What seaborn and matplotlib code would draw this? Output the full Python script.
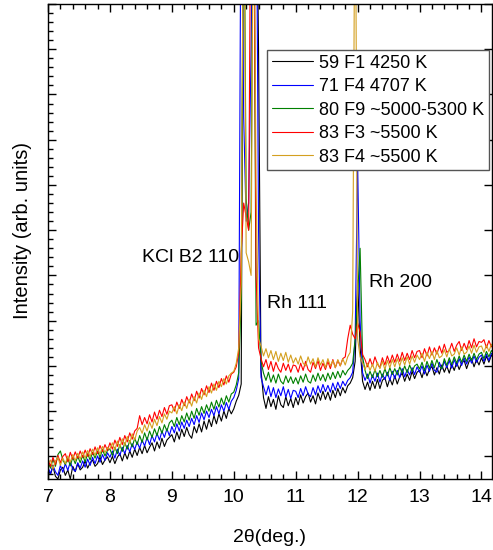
import numpy as np
import pandas as pd
import matplotlib
matplotlib.use("Agg")
import matplotlib.pyplot as plt
from matplotlib.ticker import MultipleLocator, NullFormatter
import seaborn as sns

# measurement grid, 2theta in degrees
two_theta = np.round(7.0 + 0.04 * np.arange(181), 2)

labels = ["59 F1 4250 K", "71 F4 4707 K", "80 F9 ~5000-5300 K",
          "83 F3 ~5500 K", "83 F4 ~5500 K"]
colors = ["#000000", "#0000FF", "#008000", "#FF0000", "#D4A020"]

# intensities (arb. units), rows of 1 degree
f1_59 = [
    -0.28, -0.40, -0.22, -0.44, -0.50, -0.30, -0.24, -0.42, -0.30, -0.50, -0.22, -0.34, -0.16, -0.30, -0.24, -0.10, -0.26, -0.14, -0.08, -0.22, -0.16, -0.02, -0.18, -0.08, -0.01,
    -0.14, 0.00, -0.16, -0.02, 0.06, -0.10, 0.08, -0.06, 0.12, -0.02, 0.16, 0.02, 0.20, 0.06, 0.24, 0.08, 0.20, 0.30, 0.12, 0.32, 0.18, 0.40, 0.22, 0.36, 0.42,
    0.48, 0.32, 0.54, 0.38, 0.60, 0.44, 0.64, 0.48, 0.40, 0.66, 0.52, 0.72, 0.54, 0.78, 0.60, 0.82, 0.66, 0.90, 0.72, 0.94, 0.78, 1.00, 0.84, 1.06, 0.94,
    1.05, 1.22, 1.35, 1.60, 14.0, 12.0, 12.0, 12.0, 14.0, 14.0, 9.0, 1.90, 1.30, 1.06, 1.32, 1.10, 1.26, 1.04, 1.34, 1.14, 1.08, 1.32, 1.12, 1.28, 1.08,
    1.30, 1.14, 1.36, 1.18, 1.32, 1.40, 1.20, 1.34, 1.16, 1.40, 1.24, 1.44, 1.26, 1.42, 1.24, 1.46, 1.30, 1.50, 1.34, 1.52, 1.40, 1.56, 1.62, 1.74, 2.10,
    3.90, 2.40, 1.66, 1.48, 1.64, 1.46, 1.66, 1.50, 1.70, 1.50, 1.68, 1.74, 1.54, 1.72, 1.58, 1.78, 1.60, 1.76, 1.84, 1.66, 1.82, 1.68, 1.88, 1.72, 1.86,
    1.90, 1.74, 1.94, 1.78, 1.92, 1.99, 1.80, 1.96, 1.82, 2.02, 1.86, 2.00, 1.84, 2.04, 1.90, 2.08, 1.92, 2.06, 2.12, 1.94, 2.10, 2.16, 1.98, 2.14, 2.02,
    2.18, 2.04, 2.22, 2.08, 2.24, 2.16,
]
f4_71 = [
    -0.24, -0.38, -0.20, -0.34, -0.42, -0.20, -0.35, -0.16, -0.31, -0.12, -0.28, -0.33, -0.14, -0.26, -0.10, -0.24, -0.06, -0.20, -0.02, -0.16, 0.01, -0.13, 0.04, -0.09, 0.08,
    -0.02, 0.12, -0.04, 0.16, 0.02, 0.20, 0.06, 0.24, 0.10, 0.28, 0.15, 0.32, 0.18, 0.36, 0.23, 0.42, 0.26, 0.46, 0.32, 0.51, 0.36, 0.56, 0.42, 0.61, 0.46,
    0.66, 0.52, 0.72, 0.56, 0.76, 0.62, 0.80, 0.66, 0.84, 0.70, 0.90, 0.75, 0.96, 0.81, 1.00, 0.86, 1.04, 0.90, 1.10, 0.94, 1.14, 1.00, 1.19, 1.04, 1.22,
    1.30, 1.46, 1.72, 14.0, 7.5, 5.2, 5.6, 9.0, 14.0, 14.0, 5.0, 1.75, 1.54, 1.36, 1.56, 1.32, 1.52, 1.30, 1.49, 1.34, 1.54, 1.31, 1.48, 1.28, 1.46,
    1.44, 1.30, 1.50, 1.34, 1.54, 1.38, 1.32, 1.52, 1.36, 1.56, 1.41, 1.59, 1.43, 1.57, 1.42, 1.62, 1.46, 1.64, 1.50, 1.66, 1.56, 1.68, 1.74, 1.86, 2.60,
    6.50, 3.00, 1.85, 1.68, 1.82, 1.62, 1.80, 1.66, 1.84, 1.64, 1.82, 1.70, 1.86, 1.68, 1.88, 1.72, 1.90, 1.74, 1.94, 1.76, 1.92, 1.80, 1.96, 1.81, 1.98,
    1.86, 2.00, 1.82, 2.02, 1.88, 2.06, 1.90, 1.86, 2.08, 1.93, 2.10, 1.96, 2.12, 1.95, 2.14, 1.99, 2.16, 2.01, 2.18, 2.04, 2.20, 2.06, 2.22, 2.08, 2.19,
    2.24, 2.10, 2.26, 2.12, 2.28, 2.20,
]
f9_80 = [
    -0.12, -0.26, -0.06, -0.22, 0.04, 0.12, -0.08, -0.18, -0.04, -0.21, -0.02, -0.16, 0.00, -0.14, 0.02, -0.12, 0.06, -0.08, 0.09, -0.04, 0.12, -0.02, 0.15, 0.01, 0.13,
    0.16, 0.02, 0.20, 0.06, 0.26, 0.11, 0.30, 0.16, 0.35, 0.21, 0.40, 0.26, 0.46, 0.31, 0.52, 0.36, 0.56, 0.42, 0.61, 0.46, 0.66, 0.51, 0.70, 0.56, 0.74,
    0.80, 0.66, 0.86, 0.70, 0.90, 0.76, 0.96, 0.80, 1.00, 0.84, 1.06, 0.91, 1.10, 0.95, 1.14, 1.00, 1.20, 1.04, 1.24, 1.09, 1.29, 1.14, 1.34, 1.20, 1.38,
    1.42, 1.58, 1.85, 3.5, 14.0, 5.7, 5.0, 5.4, 14.0, 2.9, 3.0, 2.1, 1.84, 1.68, 1.86, 1.64, 1.80, 1.62, 1.82, 1.66, 1.60, 1.78, 1.63, 1.76, 1.61,
    1.74, 1.60, 1.78, 1.64, 1.82, 1.66, 1.62, 1.80, 1.66, 1.84, 1.68, 1.81, 1.66, 1.84, 1.70, 1.86, 1.72, 1.88, 1.74, 1.90, 1.80, 1.90, 1.96, 2.06, 2.60,
    3.60, 4.60, 2.20, 1.90, 1.72, 1.88, 1.74, 1.92, 1.76, 1.90, 1.75, 1.94, 1.78, 1.96, 1.81, 1.94, 1.80, 1.98, 1.84, 2.00, 1.85, 2.02, 1.88, 2.00, 2.04,
    1.93, 2.08, 1.90, 2.10, 1.95, 2.12, 1.96, 2.14, 1.99, 1.94, 2.16, 2.01, 2.18, 2.03, 2.20, 2.06, 2.22, 2.08, 2.24, 2.10, 2.26, 2.12, 2.28, 2.14, 2.26,
    2.30, 2.16, 2.32, 2.20, 2.34, 2.27,
]
f3_83 = [
    -0.06, -0.22, -0.02, -0.18, 0.02, -0.14, 0.00, 0.06, -0.12, 0.09, -0.06, 0.10, -0.04, 0.12, -0.02, 0.14, 0.00, 0.17, 0.04, 0.21, 0.06, 0.24, 0.10, 0.26, 0.13,
    0.30, 0.16, 0.36, 0.22, 0.42, 0.26, 0.46, 0.32, 0.52, 0.38, 0.56, 0.62, 0.90, 0.70, 0.86, 0.72, 0.92, 0.76, 0.98, 0.82, 1.02, 0.88, 1.08, 0.93, 1.12,
    1.14, 1.00, 1.20, 1.06, 1.26, 1.12, 1.32, 1.18, 1.38, 1.23, 1.44, 1.29, 1.50, 1.36, 1.56, 1.41, 1.62, 1.46, 1.66, 1.52, 1.72, 1.58, 1.78, 1.64, 1.82,
    1.86, 1.98, 2.30, 4.5, 5.6, 5.3, 5.0, 14.0, 14.0, 4.0, 2.40, 2.16, 1.98, 2.14, 1.92, 2.10, 1.88, 2.08, 1.94, 1.86, 2.06, 1.90, 2.04, 1.86, 2.02,
    2.00, 1.86, 2.06, 1.90, 2.10, 1.92, 1.86, 2.08, 1.94, 2.12, 1.90, 2.06, 1.92, 2.10, 1.94, 2.14, 1.96, 2.12, 2.00, 2.16, 2.20, 2.60, 2.90, 2.70, 2.60,
    2.95, 2.75, 2.25, 2.14, 1.98, 2.16, 2.00, 2.20, 2.04, 1.96, 2.18, 2.02, 2.22, 2.06, 2.24, 2.08, 2.26, 2.10, 2.30, 2.12, 2.28, 2.14, 2.34, 2.18, 2.32,
    2.34, 2.18, 2.38, 2.22, 2.42, 2.24, 2.40, 2.26, 2.44, 2.28, 2.48, 2.30, 2.34, 2.50, 2.32, 2.46, 2.54, 2.34, 2.50, 2.36, 2.56, 2.40, 2.60, 2.42, 2.54,
    2.52, 2.58, 2.40, 2.56, 2.42, 2.54,
]
f4_83 = [
    -0.16, -0.08, -0.28, -0.10, -0.02, -0.20, -0.04, -0.16, 0.01, -0.13, 0.04, -0.10, 0.07, -0.06, 0.10, -0.04, 0.13, -0.01, 0.16, 0.02, 0.19, 0.05, 0.22, 0.08, 0.20,
    0.16, 0.30, 0.14, 0.34, 0.20, 0.39, 0.24, 0.44, 0.29, 0.50, 0.36, 0.56, 0.64, 0.51, 0.70, 0.56, 0.76, 0.62, 0.82, 0.68, 0.88, 0.74, 0.94, 0.82, 1.00,
    0.96, 1.10, 0.94, 1.14, 1.01, 1.20, 1.06, 1.26, 1.11, 1.32, 1.18, 1.40, 1.26, 1.46, 1.32, 1.54, 1.40, 1.60, 1.46, 1.66, 1.54, 1.72, 1.60, 1.78, 1.84,
    1.88, 2.06, 2.40, 3.80, 14.0, 4.50, 4.30, 4.00, 14.0, 6.00, 2.60, 2.44, 2.22, 2.38, 2.18, 2.34, 2.14, 2.32, 2.10, 2.28, 2.12, 2.30, 2.08, 2.24, 2.06,
    2.18, 2.04, 2.22, 2.06, 2.00, 2.20, 2.04, 2.16, 1.98, 2.18, 2.02, 2.14, 1.96, 2.16, 2.00, 2.12, 1.96, 2.14, 2.00, 2.16, 2.02, 2.20, 2.30, 3.20, 14.0,
    2.60, 2.20, 2.06, 1.92, 2.06, 1.90, 2.04, 1.88, 2.08, 1.94, 2.10, 1.92, 2.12, 1.96, 2.14, 1.98, 2.16, 2.00, 2.18, 2.02, 2.20, 2.04, 2.22, 2.08, 2.24,
    2.14, 2.28, 2.10, 2.30, 2.16, 2.32, 2.14, 2.34, 2.18, 2.22, 2.36, 2.20, 2.38, 2.22, 2.26, 2.40, 2.24, 2.42, 2.26, 2.30, 2.44, 2.28, 2.46, 2.30, 2.42,
    2.44, 2.30, 2.46, 2.32, 2.48, 2.40,
]

sns.set_style("ticks")
plt.rcParams["font.family"] = ["Liberation Sans", "DejaVu Sans"]
plt.rcParams.update({
    "text.color": "black", "axes.labelcolor": "black",
    "xtick.color": "black", "ytick.color": "black", "axes.edgecolor": "black",
})

series = [f1_59, f4_71, f9_80, f3_83, f4_83]
df = pd.concat(
    [pd.DataFrame({"two_theta": two_theta, "intensity": s, "sample": lab})
     for s, lab in zip(series, labels)],
    ignore_index=True,
)

fig = plt.figure(figsize=(4.93, 5.5), dpi=100)
ax = fig.add_axes([48 / 493, 71 / 550, 444 / 493, 475 / 550])

sns.lineplot(
    data=df, x="two_theta", y="intensity", hue="sample", hue_order=labels,
    palette=dict(zip(labels, colors)), estimator=None, sort=False,
    linewidth=0.8, ax=ax,
)

ax.set_xlim(7, 14.17)
ax.set_ylim(-0.5, 10)

ax.xaxis.set_major_locator(MultipleLocator(1))
ax.xaxis.set_minor_locator(MultipleLocator(0.2))
ax.yaxis.set_major_locator(MultipleLocator(1))
ax.yaxis.set_minor_locator(MultipleLocator(0.2))
ax.yaxis.set_major_formatter(NullFormatter())

ax.tick_params(which="both", direction="in", top=True, right=True, width=1)
ax.tick_params(which="major", length=6, labelsize=14, pad=7)
ax.tick_params(which="minor", length=3.5)
ax.tick_params(axis="y", which="minor", right=False)
for sp in ax.spines.values():
    sp.set_linewidth(1)

ax.set_xlabel("2\u03b8(deg.)", fontsize=14, labelpad=17)
ax.set_ylabel("Intensity (arb. units)", fontsize=14.5)
ax.yaxis.set_label_coords(-0.036, 0.524)

ax.text(10.08, 4.4, "KCl B2 110", ha="right", va="center", fontsize=14)
ax.text(10.53, 3.39, "Rh 111", ha="left", va="center", fontsize=14)
ax.text(12.19, 3.85, "Rh 200", ha="left", va="center", fontsize=14)

handles, labs = ax.get_legend_handles_labels()
ax.legend(
    handles, labs, loc="upper right",
    bbox_to_anchor=((489 - 48) / 444, (479 - 50) / 475),
    borderaxespad=0, fancybox=False, framealpha=1, edgecolor="#555555",
    fontsize=13, handlelength=2.3, handletextpad=0.35, labelspacing=0.36,
    borderpad=0.25,
)

fig.savefig("out.png", dpi=100)
